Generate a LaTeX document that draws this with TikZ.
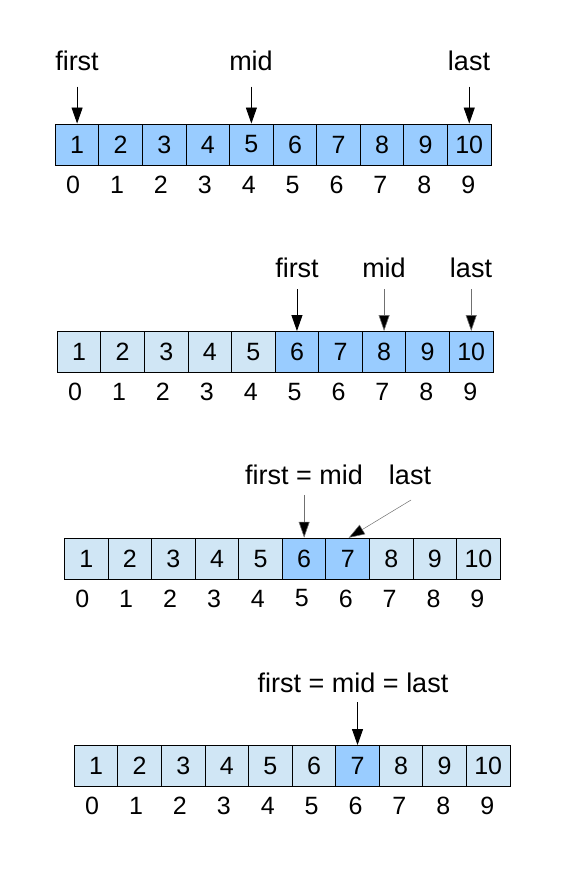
\documentclass[tikz,border=0pt]{standalone}
\usepackage{fontspec}
\setmainfont{Liberation Sans}
\usetikzlibrary{arrows.meta}
\definecolor{cdark}{HTML}{99CCFF}
\definecolor{clight}{HTML}{D0E6F5}
\definecolor{cgrey}{HTML}{707070}
\tikzset{
  cell/.style={draw=black, line width=0.9pt, minimum width=43.57pt, minimum height=41pt, inner sep=0pt, font=\fontsize{25}{25}\selectfont},
  idx/.style={inner sep=0pt, font=\fontsize{25}{25}\selectfont},
  lbl/.style={inner sep=0pt, font=\fontsize{27}{27}\selectfont},
  arr/.style={line width=0.9pt, -{Triangle[width=11pt,length=16pt]}},
  garr/.style={line width=0.6pt, draw=cgrey, -{Triangle[width=11pt,length=16pt,fill=black]}}
}
\begin{document}
\begin{tikzpicture}[x=1pt,y=-1pt]
\useasboundingbox (0,0) rectangle (567,869);
% row 1
\foreach \i in {0,...,9}{
  \pgfmathtruncatemacro\n{\i+1}
  \node[cell, fill=cdark] (a\i) at (77.1+43.57*\i,144.5) {\n};
  \node[idx] (ai\i) at (73.1+43.9*\i,185) {\i};
}
% row 2
\foreach \i in {0,...,9}{
  \pgfmathtruncatemacro\n{\i+1}
  \pgfmathsetmacro\c{\i>4 ? "cdark" : "clight"}
  \node[cell, fill=\c] (b\i) at (79.1+43.57*\i,352) {\n};
  \node[idx] (bi\i) at (75.1+43.9*\i,392) {\i};
}
% row 3
\foreach \i in {0,...,9}{
  \pgfmathtruncatemacro\n{\i+1}
  \pgfmathsetmacro\c{(\i==5 || \i==6) ? "cdark" : "clight"}
  \node[cell, fill=\c] (c\i) at (86.3+43.57*\i,558.7) {\n};
  \node[idx] (ci\i) at (82.3+43.9*\i,598.5) {\i};
}
% row 4
\foreach \i in {0,...,9}{
  \pgfmathtruncatemacro\n{\i+1}
  \pgfmathsetmacro\c{\i==6 ? "cdark" : "clight"}
  \node[cell, fill=\c] (d\i) at (96.1+43.57*\i,766) {\n};
  \node[idx] (di\i) at (92.1+43.9*\i,806) {\i};
}
% labels row 1
\node[lbl] (af) at (77,61) {first};
\node[lbl] (am) at (251,61) {mid};
\node[lbl] (al) at (469,61) {last};
\path (a0.north) ++(0,-37) coordinate (saf);
\path (a4.north) ++(0,-37) coordinate (sam);
\path (a9.north) ++(0,-37) coordinate (sal);
\draw[arr] (saf) -- (a0.north);
\draw[arr] (sam) -- (a4.north);
\draw[arr] (sal) -- (a9.north);
% labels row 2
\node[lbl] (bf) at (297,268) {first};
\node[lbl] (bm) at (384,268) {mid};
\node[lbl] (bl) at (471,268) {last};
\path (b5.north) ++(0,-42) coordinate (sbf);
\path (b7.north) ++(0,-42) coordinate (sbm);
\path (b9.north) ++(0,-42) coordinate (sbl);
\draw[arr] (sbf) -- (b5.north);
\draw[garr] (sbm) -- (b7.north);
\draw[garr] (sbl) -- (b9.north);
% labels row 3
\node[lbl] (cfm) at (304,475) {first = mid};
\node[lbl] (cl) at (410,475) {last};
\path (c5.north) ++(0,-43) coordinate (scf);
\coordinate (scl) at (411,500);
\draw[garr] (scf) -- (c5.north);
\draw[garr, line width=0.5pt] (scl) -- ([xshift=1pt]c6.north);
% labels row 4
\node[lbl] (dfml) at (353,683) {first = mid = last};
\path (d6.north) ++(0,-43) coordinate (sd);
\draw[arr] (sd) -- (d6.north);
\end{tikzpicture}
\end{document}
